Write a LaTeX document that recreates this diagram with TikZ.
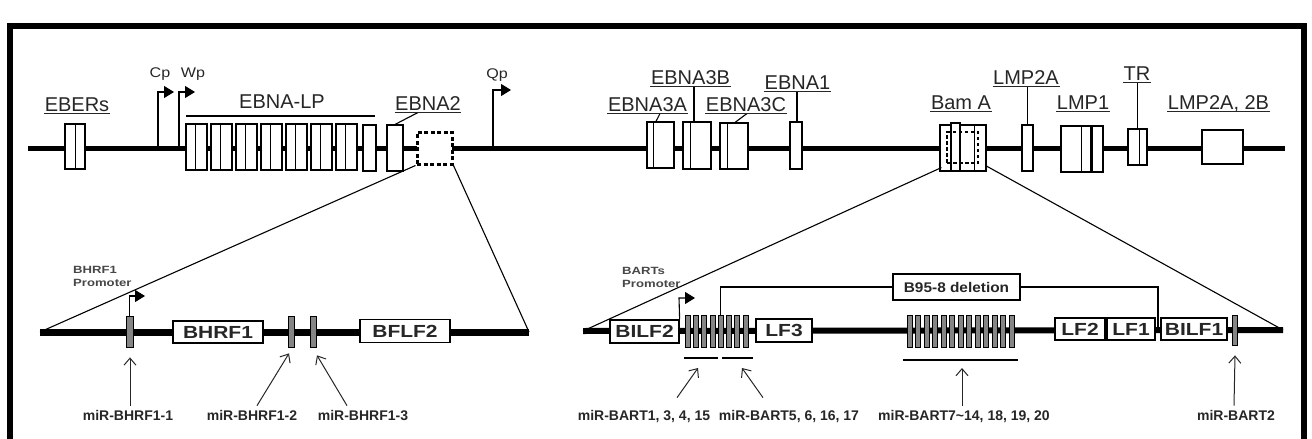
\documentclass[tikz,border=0pt]{standalone}
\usepackage{fontspec}
\setmainfont{Liberation Sans}
\usetikzlibrary{arrows.meta}
\definecolor{labgray}{HTML}{262626}
\definecolor{mkgray}{HTML}{858585}
\newcommand\xstr[2]{\scalebox{#1}[1]{#2}}
\begin{document}
\begin{tikzpicture}[x=1pt,y=-1pt,
  gbox/.style={draw, fill=white, line width=1.1pt, inner sep=0pt},
  nbox/.style={draw, fill=white, line width=1.3pt, inner sep=0pt, text=labgray, font=\bfseries\fontsize{17.5}{19}\selectfont},
  mk/.style={draw, fill=mkgray, line width=0.8pt, inner sep=0pt, minimum width=5pt, minimum height=32pt},
  dbox/.style={draw, fill=white, dash pattern=on 4pt off 2.5pt, line width=3pt, inner sep=0pt},
  toplab/.style={font=\fontsize{20}{22}\selectfont, text=labgray, inner xsep=0.5pt, inner ysep=0pt, anchor=base},
  plab/.style={font=\fontsize{14}{16}\selectfont, text=labgray, inner sep=0pt, anchor=base},
  mirlab/.style={font=\bfseries\fontsize{14}{16}\selectfont, text=labgray, inner sep=0pt, anchor=base},
  promlab/.style={font=\bfseries\fontsize{10.5}{12}\selectfont, text=labgray!85, inner sep=0pt, anchor=base west},
  thinl/.style={line width=1.1pt},
  ul/.style={line width=1.2pt, labgray},
  prom/.style={line width=1.1pt, -{Triangle[length=10pt,width=12pt]}},
  mirarrow/.style={line width=1pt, labgray, -{Straight Barb[length=7pt,width=12pt]}},
]
\useasboundingbox (0,0) rectangle (1312,439);
% frame
\draw[line width=6pt] (10,26) rectangle (1304,470);

% ---------------- top genome ----------------
\coordinate (t0) at (28,148); \coordinate (t1) at (1285,148);
\draw[line width=5pt] (t0) -- (t1);

% promoters Cp, Wp, Qp
\coordinate (cp0) at (158,148); \coordinate (cp1) at (158,92); \coordinate (cpT) at (174,92);
\draw[prom] (cp0) -- (cp1) -- (cpT);
\node[plab] (cpL) at (160,77) {\xstr{1.15}{Cp}};
\coordinate (wp0) at (179,148); \coordinate (wp1) at (179,92); \coordinate (wpT) at (195,92);
\draw[prom] (wp0) -- (wp1) -- (wpT);
\node[plab] (wpL) at (193,77) {\xstr{1.15}{Wp}};
\coordinate (qp0) at (493,148); \coordinate (qp1) at (493,90); \coordinate (qpT) at (511,90);
\draw[prom] (qp0) -- (qp1) -- (qpT);
\node[plab] (qpL) at (497,78) {\xstr{1.15}{Qp}};

% EBERs
\node[gbox, minimum width=20pt, minimum height=45pt] (ebers) at (75,146.5) {};
\draw[thinl] ([xshift=11pt]ebers.north west) -- ([xshift=11pt]ebers.south west);
\node[toplab] (ebersL) at (77,111) {EBERs};

% EBNA-LP
\foreach \i in {0,...,6} {
  \node[gbox, minimum width=21pt, minimum height=46pt] (lp\i) at ({196.5+25*\i},147) {};
  \draw[thinl] ([xshift=10pt]lp\i.north west) -- ([xshift=10pt]lp\i.south west);
}
\node[gbox, minimum width=13pt, minimum height=46pt] (lp7) at (369.5,148) {};
\node[toplab] (lpL) at (282,108) {EBNA-LP};
\coordinate (lpA) at (186,116); \coordinate (lpB) at (375,116);
\draw[thinl] (lpA) -- (lpB);

% EBNA2
\node[gbox, minimum width=16pt, minimum height=46pt] (e2) at (395,148) {};
\node[toplab] (e2L) at (428,110) {EBNA2};
\draw[thinl] (e2.north) -- ([xshift=-10pt,yshift=-2.5pt]e2L.base);

% zoomed region A
\node[dbox, minimum width=35pt, minimum height=32pt] (za) at (434.5,148) {};

% EBNA3A/3B/3C
\node[gbox, minimum width=27pt, minimum height=46pt] (e3a) at (660.5,145) {};
\draw[thinl] ([xshift=7pt]e3a.north west) -- ([xshift=7pt]e3a.south west);
\node[toplab] (e3aL) at (647.5,111) {EBNA3A};
\draw[thinl] ([xshift=-4.5pt]e3a.north) -- ([xshift=12.5pt,yshift=-2.5pt]e3aL.base);

\node[gbox, minimum width=28pt, minimum height=47pt] (e3b) at (697,145.5) {};
\draw[thinl] ([xshift=8pt]e3b.north west) -- ([xshift=8pt]e3b.south west);
\node[toplab] (e3bL) at (690.5,84) {EBNA3B};
\draw[thinl] ([xshift=-3pt]e3b.north) -- ([xshift=3.5pt,yshift=-2.5pt]e3bL.base);

\node[gbox, minimum width=28pt, minimum height=46pt] (e3c) at (734,146) {};
\draw[thinl] ([xshift=8pt]e3c.north west) -- ([xshift=8pt]e3c.south west);
\node[toplab] (e3cL) at (746,111) {EBNA3C};
\draw[thinl] ([xshift=1pt]e3c.north) -- ([xshift=1pt,yshift=-2.5pt]e3cL.base);

% EBNA1
\node[gbox, minimum width=12pt, minimum height=47pt] (e1) at (796,145.5) {};
\node[toplab] (e1L) at (797.5,89) {EBNA1};
\draw[thinl] ([xshift=1pt]e1.north) -- ([xshift=-0.5pt,yshift=-2.5pt]e1L.base);

% Bam A
\node[gbox, minimum width=46pt, minimum height=46pt] (bam) at (963,148) {};
\node[gbox, minimum width=9pt, minimum height=48pt] (bam2) at (955.5,147) {};
\draw[thinl] ([xshift=35pt]bam.north west) -- ([xshift=35pt]bam.south west);
\node[draw, dash pattern=on 3.5pt off 2.5pt, line width=2.8pt, inner sep=0pt, minimum width=31pt, minimum height=31pt] (zb) at (962.5,147.5) {};
\node[toplab] (bamL) at (961,109) {Bam A};

% LMP2A
\node[gbox, minimum width=11pt, minimum height=46pt] (lmp2a) at (1027.5,148) {};
\node[toplab] (lmp2aL) at (1026,84) {LMP2A};
\draw[thinl] (lmp2a.north) -- ([xshift=1.5pt,yshift=-2.5pt]lmp2aL.base);

% LMP1
\node[gbox, minimum width=42pt, minimum height=46pt] (lmp1) at (1082,149) {};
\draw[thinl] ([xshift=21pt]lmp1.north west) -- ([xshift=21pt]lmp1.south west);
\draw[line width=2.4pt] ([xshift=31pt]lmp1.north west) -- ([xshift=31pt]lmp1.south west);
\node[toplab] (lmp1L) at (1083,109) {LMP1};

% TR
\node[gbox, minimum width=19pt, minimum height=36pt] (tr) at (1137.5,147) {};
\draw[thinl] ([xshift=12pt]tr.north west) -- ([xshift=12pt]tr.south west);
\node[toplab] (trL) at (1137,80) {TR};
\draw[thinl] (tr.north) -- ([xshift=0.5pt,yshift=-2.5pt]trL.base);

% LMP2A, 2B
\node[gbox, minimum width=41pt, minimum height=34pt] (lmp2b) at (1222.5,147) {};
\node[toplab] (lmp2bL) at (1218.5,109) {LMP2A, 2B};

% underlines
\foreach \n in {ebersL,e2L,e3aL,e3bL,e3cL,e1L,bamL,lmp2aL,lmp1L,trL,lmp2bL}
  \draw[ul] ([yshift=-2.5pt]\n.base west) -- ([yshift=-2.5pt]\n.base east);

% ---------------- lower left (BHRF1 region) ----------------
\coordinate (l0) at (40,332); \coordinate (l1) at (529,332);
\draw[thinl] (za.south west) -- (l0);
\draw[thinl] (za.south east) -- (l1);
\draw[line width=7pt] (l0) -- (l1);

\node[mk, minimum width=7pt, minimum height=31pt] (h1) at (129.5,331.5) {};
\node[mk, minimum width=6pt, minimum height=31pt] (h2) at (291,331.5) {};
\node[mk, minimum width=6pt, minimum height=31pt] (h3) at (313,331.5) {};
\node[nbox, minimum width=90pt, minimum height=22pt] (bhrf1) at (218,332) {\xstr{1.2}{BHRF1}};
\node[nbox, minimum width=90pt, minimum height=23pt] (bflf2) at (405,331) {\xstr{1.2}{BFLF2}};

\coordinate (hp1) at (129.5,296); \coordinate (hpT) at (145,296);
\draw[prom] (h1.north) -- (hp1) -- (hpT);
\node[promlab] (hpL1) at (73,273) {\xstr{1.25}{BHRF1}};
\node[promlab] (hpL2) at (73,286) {\xstr{1.25}{Promoter}};

\node[mirlab] (m1L) at (128,420) {miR-BHRF1-1};
\node[mirlab] (m2L) at (252,420) {miR-BHRF1-2};
\node[mirlab] (m3L) at (363,420) {miR-BHRF1-3};
\draw[mirarrow] ([xshift=2pt,yshift=4pt]m1L.north) -- ([xshift=0.5pt,yshift=-10pt]h1.south);
\draw[mirarrow] ([xshift=5pt,yshift=4pt]m2L.north) -- ([xshift=-2pt,yshift=-6pt]h2.south);
\draw[mirarrow] ([xshift=-16pt,yshift=4pt]m3L.north) -- ([xshift=4pt,yshift=-8pt]h3.south);

% ---------------- lower right (BART region) ----------------
\coordinate (r0) at (583,331); \coordinate (r1) at (1283,330);
\draw[thinl] ([shift={(2pt,4pt)}]bam.south west) -- (r0);
\draw[thinl] ([shift={(-1pt,6pt)}]bam.south east) -- (r1);
\draw[line width=6pt] (r0) -- (r1);

\node[nbox, minimum width=69pt, minimum height=23pt] (bilf2) at (644.5,331.5) {\xstr{1.2}{BILF2}};
\coordinate (bp1) at (679,298); \coordinate (bpT) at (695,298);
\draw[prom] (bilf2.north east) -- (bp1) -- (bpT);
\node[promlab] (bpL1) at (622,274) {\xstr{1.25}{BARTs}};
\node[promlab] (bpL2) at (622,287) {\xstr{1.25}{Promoter}};

\foreach \i in {0,...,7}
  \node[mk] (c1m\i) at ({687.5+8.3*\i},331) {};
\node[nbox, minimum width=56pt, minimum height=23pt] (lf3) at (784,330.5) {\xstr{1.2}{LF3}};
\foreach \i in {0,...,12}
  \node[mk] (c2m\i) at ({909.5+8.5*\i},331) {};
\node[nbox, minimum width=50pt, minimum height=22pt] (lf2) at (1080,329) {\xstr{1.2}{LF2}};
\node[nbox, minimum width=48pt, minimum height=22pt] (lf1) at (1131,329) {\xstr{1.2}{LF1}};
\node[nbox, minimum width=66pt, minimum height=22pt] (bilf1) at (1194,329) {\xstr{1.2}{BILF1}};
\node[mk, minimum height=30pt] (b2m) at (1235,330) {};

% B95-8 deletion
\node[draw, fill=white, line width=1.2pt, inner sep=0pt, minimum width=127pt, minimum height=26pt,
      text=labgray, font=\bfseries\fontsize{14}{16}\selectfont] (del) at (956.5,287) {\xstr{1.1}{B95-8 deletion}};
\coordinate (dr) at (1158,329);
\draw[thinl] (c1m4.north) -- (c1m4.north |- del.west) -- (del.west);
\draw[thinl] (del.east) -- (dr |- del.east) -- (dr);

% cluster underlines
\coordinate (u1a) at (684,358); \coordinate (u1b) at (718,358);
\coordinate (u2a) at (722,358); \coordinate (u2b) at (753,358);
\coordinate (u3a) at (903,360); \coordinate (u3b) at (1018,360);
\draw[thinl] (u1a) -- (u1b);
\draw[thinl] (u2a) -- (u2b);
\draw[thinl] (u3a) -- (u3b);

\node[mirlab] (b1L) at (644,420) {miR-BART1, 3, 4, 15};
\node[mirlab] (b2L) at (789,420) {miR-BART5, 6, 16, 17};
\node[mirlab] (b3L) at (964,420) {miR-BART7\textasciitilde 14, 18, 19, 20};
\node[mirlab] (b4L) at (1236,420) {miR-BART2};
\coordinate (b1e) at (698,368); \coordinate (b2e) at (742,368); \coordinate (b3e) at (962,368);
\draw[mirarrow] ([xshift=33pt,yshift=12pt]b1L.north) -- (b1e);
\draw[mirarrow] ([xshift=-26pt,yshift=12pt]b2L.north) -- (b2e);
\draw[mirarrow] ([xshift=-2pt,yshift=4pt]b3L.north) -- (b3e);
\draw[mirarrow] ([xshift=-2pt,yshift=4pt]b4L.north) -- ([yshift=-10pt]b2m.south);
\end{tikzpicture}
\end{document}
